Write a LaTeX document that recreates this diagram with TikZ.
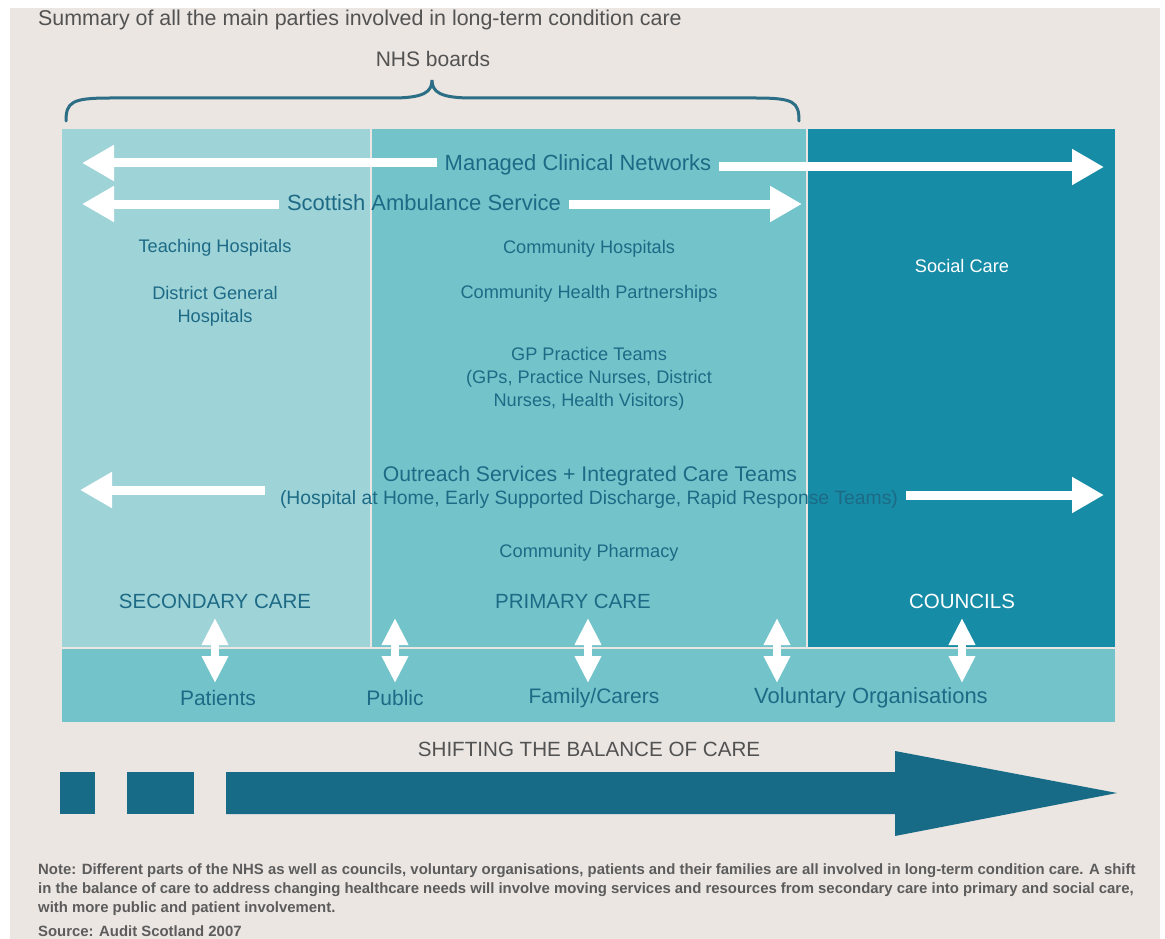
\documentclass[tikz,border=0pt]{standalone}
\usepackage{fontspec}
\setmainfont{Liberation Sans}
\usetikzlibrary{arrows.meta}

\definecolor{paper}{HTML}{EBE6E2}
\definecolor{seccol}{HTML}{9ED3D7}
\definecolor{primcol}{HTML}{72C4CA}
\definecolor{councol}{HTML}{178CA6}
\definecolor{inktxt}{HTML}{1D6A86}
\definecolor{greytxt}{HTML}{525252}
\definecolor{notetxt}{HTML}{5C5C5C}
\definecolor{bracecol}{HTML}{2C6E86}
\definecolor{shiftcol}{HTML}{176B87}

\tikzset{
  panel/.style={draw=none, inner sep=0pt, anchor=north west},
  lbl/.style={text=inktxt, inner sep=0pt, align=center},
  body/.style={lbl, font=\fontsize{18.2}{23}\selectfont},
  head/.style={lbl, font=\fontsize{20.5}{24}\selectfont},
  band/.style={lbl, font=\fontsize{21}{24}\selectfont},
  gap/.style={inner xsep=8pt, inner ysep=0pt},
  warrow/.style={draw=white, line width=9pt, -{Triangle[width=34pt,length=32pt]}},
  wdarrow/.style={draw=white, line width=8pt,
    {Triangle[width=25pt,length=27pt]}-{Triangle[width=25pt,length=27pt]}},
  shiftpart/.style={fill=shiftcol, draw=none},
  notefont/.style={text=notetxt, font=\fontsize{14.9}{19}\selectfont\bfseries},
}

\begin{document}
\begin{tikzpicture}[x=1pt,y=-1pt]
\useasboundingbox (0,0) rectangle (1165,939);
\fill[white] (0,0) rectangle (1165,939);
\fill[paper] (10,8) rectangle (1160,939);

% heading and the NHS brace
\node[anchor=west, inner sep=0pt, text=greytxt, font=\fontsize{21.4}{24}\selectfont] (title) at (38,20)
  {Summary of all the main parties involved in long-term condition care};
\node[inner sep=0pt, text=greytxt, font=\fontsize{21}{24}\selectfont] (nhs) at (433,59) {NHS boards};
\draw[bracecol, line width=3pt, line cap=round]
  (66,121) .. controls (66,102) and (72,98) .. (110,98) -- (392,98)
  .. controls (424,98) and (432,92) .. (432,80)
  .. controls (432,92) and (440,98) .. (472,98) -- (756,98)
  .. controls (794,98) and (799,102) .. (799,121);

% sectors
\node[panel, fill=seccol, minimum width=308pt, minimum height=518pt] (sec) at (62,129) {};
\node[panel, fill=primcol, minimum width=434pt, minimum height=518pt] (prim) at (372,129) {};
\node[panel, fill=councol, minimum width=307pt, minimum height=518pt] (coun) at (808,129) {};
\node[panel, fill=primcol, minimum width=1053pt, minimum height=73pt] (people) at (62,649) {};

% services spanning the sectors
\coordinate (mcnL) at (82,163);
\coordinate (mcnR) at (1104,167);
\node[lbl, gap, font=\fontsize{22}{24}\selectfont] (mcn) at (578,165) {Managed Clinical Networks};
\draw[warrow] (mcn.west |- mcnL) -- (mcnL);
\draw[warrow] (mcn.east |- mcnR) -- (mcnR);

\coordinate (sasL) at (82,204);
\coordinate (sasR) at (802,204);
\node[lbl, gap, font=\fontsize{22}{24}\selectfont] (sas) at (424,203) {Scottish Ambulance Service};
\draw[warrow] (sas.west |- sasL) -- (sasL);
\draw[warrow] (sas.east |- sasR) -- (sasR);

\coordinate (outL) at (80,490);
\coordinate (outLs) at (265,490);
\coordinate (outR) at (1104,495);
\node[lbl, font=\fontsize{21.2}{24}\selectfont] (outreach) at (590,476)
  {Outreach Services + Integrated Care Teams};
\node[lbl, gap, font=\fontsize{19.3}{24}\selectfont] (outdetail) at (589,500)
  {(Hospital at Home, Early Supported Discharge, Rapid Response Teams)};
\draw[warrow] (outLs) -- (outL);
\draw[warrow] (outdetail.east |- outR) -- (outR);

% secondary care
\node[body] (teach) at (215,248) {Teaching Hospitals};
\node[body] (dgh) at (215,306) {District General\\Hospitals};
\node[head] (seclbl) at (215,601) {SECONDARY CARE};

% primary care
\node[body] (commhosp) at (589,249) {Community Hospitals};
\node[body] (chp) at (589,294) {Community Health Partnerships};
\node[body] (gp) at (589,379) {GP Practice Teams\\(GPs, Practice Nurses, District\\Nurses, Health Visitors)};
\node[body] (pharm) at (589,553) {Community Pharmacy};
\node[head] (primlbl) at (573,601) {PRIMARY CARE};

% councils
\node[body, text=white] (social) at (962,266) {Social Care};
\node[head, text=white] (counlbl) at (962,601) {COUNCILS};

% people involved
\node[band] (patients) at (218,698) {Patients};
\node[band] (public) at (395,698) {Public};
\node[band] (family) at (594,698) {Family/Carers};
\node[band, font=\fontsize{22}{24}\selectfont] (vol) at (871,698) {Voluntary Organisations};

% two-way links between the sectors and the people involved
\foreach \n/\x in {1/215, 2/395, 3/588, 4/777, 5/962} {
  \coordinate (up\n) at (\x,618);
  \coordinate (dn\n) at (\x,683);
  \draw[wdarrow] (up\n) -- (dn\n);
}

% shifting the balance of care
\node[inner sep=0pt, text=greytxt, font=\fontsize{20.6}{24}\selectfont] (shift) at (589,749)
  {SHIFTING THE BALANCE OF CARE};
\fill[shiftpart] (60,772) rectangle (95,814);
\fill[shiftpart] (127,772) rectangle (194,814);
\fill[shiftpart] (226,772) -- (895,772) -- (895,751) -- (1117,793)
  -- (895,836) -- (895,814) -- (226,814) -- cycle;

% note and source
\node[anchor=north west, inner sep=0pt, align=left, notefont] (note) at (38,863)
  {Note: Different parts of the NHS as well as councils, voluntary organisations, patients and their families are all involved in long-term condition care. A shift\\
   in the balance of care to address changing healthcare needs will involve moving services and resources from secondary care into primary and social care,\\
   with more public and patient involvement.};
\node[anchor=west, inner sep=0pt, notefont] (source) at (38,931) {Source: Audit Scotland 2007};
\end{tikzpicture}
\end{document}
